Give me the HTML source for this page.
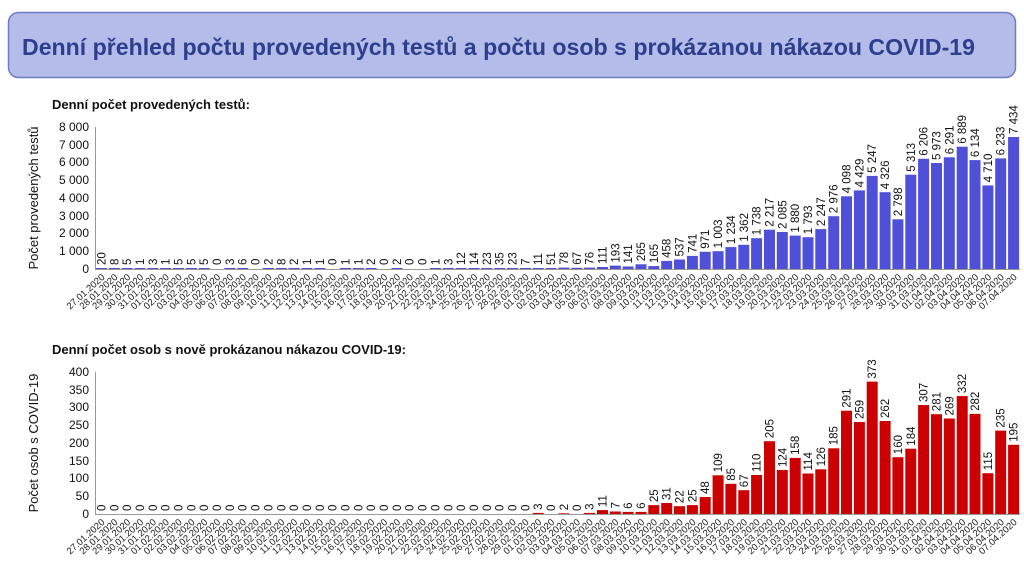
<!DOCTYPE html>
<html><head><meta charset="utf-8"><style>
body{margin:0;background:#fff;}
svg{display:block;font-family:"Liberation Sans",sans-serif;}
.v{font-size:11.5px;fill:#111;}
.d{font-size:9.5px;fill:#222;text-anchor:end;}
.t rect{fill:#4f4fd8;}
.b rect{fill:#cc0000;}
.yl{font-size:12px;fill:#111;text-anchor:end;}
</style></head><body>
<svg width="1024" height="576" viewBox="0 0 1024 576">
<rect x="8.5" y="12.5" width="1007" height="65" rx="10" fill="#b4bdea" stroke="#6f7cc4" stroke-width="1.5"/>
<text x="22" y="55" font-size="23" font-weight="bold" fill="#2e3d8c" textLength="953" lengthAdjust="spacingAndGlyphs">Denní přehled počtu provedených testů a počtu osob s prokázanou nákazou COVID-19</text>
<text x="52" y="109" font-size="13" font-weight="bold" fill="#111">Denní počet provedených testů:</text>
<text x="52" y="354" font-size="13" font-weight="bold" fill="#111">Denní počet osob s nově prokázanou nákazou COVID-19:</text>
<text transform="translate(38,198) rotate(-90)" font-size="13" text-anchor="middle" fill="#111">Počet provedených testů</text>
<text transform="translate(38,443) rotate(-90)" font-size="13" text-anchor="middle" fill="#111">Počet osob s COVID-19</text>
<g class="yl">
<text x="89" y="131">8 000</text><text x="89" y="149">7 000</text><text x="89" y="166">6 000</text><text x="89" y="184">5 000</text><text x="89" y="202">4 000</text><text x="89" y="220">3 000</text><text x="89" y="237">2 000</text><text x="89" y="255">1 000</text><text x="89" y="273">0</text>
<text x="89" y="376">400</text><text x="89" y="394">350</text><text x="89" y="411">300</text><text x="89" y="429">250</text><text x="89" y="447">200</text><text x="89" y="465">150</text><text x="89" y="482">100</text><text x="89" y="500">50</text><text x="89" y="518">0</text>
</g>
<g stroke="#999" stroke-width="1">
<line x1="95.5" y1="127" x2="95.5" y2="269"/><line x1="95" y1="269.5" x2="1020" y2="269.5"/>
<line x1="95.5" y1="372" x2="95.5" y2="514"/><line x1="95" y1="514.5" x2="1020" y2="514.5"/>
</g>
<g class="t">
<g transform="translate(101.4)"><rect x="-5.5" y="268" width="11" height="1"/><text class="v" transform="translate(4,265) rotate(-90)">20</text></g>
<g transform="translate(114.3)"><rect x="-5.5" y="268" width="11" height="1"/><text class="v" transform="translate(4,265) rotate(-90)">8</text></g>
<g transform="translate(127.1)"><rect x="-5.5" y="268" width="11" height="1"/><text class="v" transform="translate(4,265) rotate(-90)">5</text></g>
<g transform="translate(140.0)"><rect x="-5.5" y="268" width="11" height="1"/><text class="v" transform="translate(4,265) rotate(-90)">1</text></g>
<g transform="translate(152.8)"><rect x="-5.5" y="268" width="11" height="1"/><text class="v" transform="translate(4,265) rotate(-90)">3</text></g>
<g transform="translate(165.7)"><rect x="-5.5" y="268" width="11" height="1"/><text class="v" transform="translate(4,265) rotate(-90)">1</text></g>
<g transform="translate(178.5)"><rect x="-5.5" y="268" width="11" height="1"/><text class="v" transform="translate(4,265) rotate(-90)">5</text></g>
<g transform="translate(191.4)"><rect x="-5.5" y="268" width="11" height="1"/><text class="v" transform="translate(4,265) rotate(-90)">5</text></g>
<g transform="translate(204.2)"><rect x="-5.5" y="268" width="11" height="1"/><text class="v" transform="translate(4,265) rotate(-90)">5</text></g>
<g transform="translate(217.0)"><text class="v" transform="translate(4,265) rotate(-90)">0</text></g>
<g transform="translate(229.9)"><rect x="-5.5" y="268" width="11" height="1"/><text class="v" transform="translate(4,265) rotate(-90)">3</text></g>
<g transform="translate(242.7)"><rect x="-5.5" y="268" width="11" height="1"/><text class="v" transform="translate(4,265) rotate(-90)">6</text></g>
<g transform="translate(255.6)"><text class="v" transform="translate(4,265) rotate(-90)">0</text></g>
<g transform="translate(268.4)"><rect x="-5.5" y="268" width="11" height="1"/><text class="v" transform="translate(4,265) rotate(-90)">2</text></g>
<g transform="translate(281.3)"><rect x="-5.5" y="268" width="11" height="1"/><text class="v" transform="translate(4,265) rotate(-90)">8</text></g>
<g transform="translate(294.1)"><rect x="-5.5" y="268" width="11" height="1"/><text class="v" transform="translate(4,265) rotate(-90)">2</text></g>
<g transform="translate(307.0)"><rect x="-5.5" y="268" width="11" height="1"/><text class="v" transform="translate(4,265) rotate(-90)">1</text></g>
<g transform="translate(319.8)"><rect x="-5.5" y="268" width="11" height="1"/><text class="v" transform="translate(4,265) rotate(-90)">1</text></g>
<g transform="translate(332.7)"><text class="v" transform="translate(4,265) rotate(-90)">0</text></g>
<g transform="translate(345.5)"><rect x="-5.5" y="268" width="11" height="1"/><text class="v" transform="translate(4,265) rotate(-90)">1</text></g>
<g transform="translate(358.4)"><rect x="-5.5" y="268" width="11" height="1"/><text class="v" transform="translate(4,265) rotate(-90)">1</text></g>
<g transform="translate(371.2)"><rect x="-5.5" y="268" width="11" height="1"/><text class="v" transform="translate(4,265) rotate(-90)">2</text></g>
<g transform="translate(384.1)"><text class="v" transform="translate(4,265) rotate(-90)">0</text></g>
<g transform="translate(396.9)"><rect x="-5.5" y="268" width="11" height="1"/><text class="v" transform="translate(4,265) rotate(-90)">2</text></g>
<g transform="translate(409.7)"><text class="v" transform="translate(4,265) rotate(-90)">0</text></g>
<g transform="translate(422.6)"><text class="v" transform="translate(4,265) rotate(-90)">0</text></g>
<g transform="translate(435.4)"><rect x="-5.5" y="268" width="11" height="1"/><text class="v" transform="translate(4,265) rotate(-90)">1</text></g>
<g transform="translate(448.3)"><rect x="-5.5" y="268" width="11" height="1"/><text class="v" transform="translate(4,265) rotate(-90)">3</text></g>
<g transform="translate(461.1)"><rect x="-5.5" y="268" width="11" height="1"/><text class="v" transform="translate(4,265) rotate(-90)">12</text></g>
<g transform="translate(474.0)"><rect x="-5.5" y="268" width="11" height="1"/><text class="v" transform="translate(4,265) rotate(-90)">14</text></g>
<g transform="translate(486.8)"><rect x="-5.5" y="268" width="11" height="1"/><text class="v" transform="translate(4,265) rotate(-90)">23</text></g>
<g transform="translate(499.7)"><rect x="-5.5" y="268" width="11" height="1"/><text class="v" transform="translate(4,265) rotate(-90)">35</text></g>
<g transform="translate(512.5)"><rect x="-5.5" y="268" width="11" height="1"/><text class="v" transform="translate(4,265) rotate(-90)">23</text></g>
<g transform="translate(525.4)"><rect x="-5.5" y="268" width="11" height="1"/><text class="v" transform="translate(4,265) rotate(-90)">7</text></g>
<g transform="translate(538.2)"><rect x="-5.5" y="268" width="11" height="1"/><text class="v" transform="translate(4,265) rotate(-90)">11</text></g>
<g transform="translate(551.1)"><rect x="-5.5" y="268" width="11" height="1"/><text class="v" transform="translate(4,265) rotate(-90)">51</text></g>
<g transform="translate(563.9)"><rect x="-5.5" y="267.6" width="11" height="1.4"/><text class="v" transform="translate(4,264.6) rotate(-90)">78</text></g>
<g transform="translate(576.8)"><rect x="-5.5" y="267.8" width="11" height="1.2"/><text class="v" transform="translate(4,264.8) rotate(-90)">67</text></g>
<g transform="translate(589.6)"><rect x="-5.5" y="267.6" width="11" height="1.4"/><text class="v" transform="translate(4,264.6) rotate(-90)">76</text></g>
<g transform="translate(602.5)"><rect x="-5.5" y="267" width="11" height="2"/><text class="v" transform="translate(4,264) rotate(-90)">111</text></g>
<g transform="translate(615.3)"><rect x="-5.5" y="265.6" width="11" height="3.4"/><text class="v" transform="translate(4,262.6) rotate(-90)">193</text></g>
<g transform="translate(628.1)"><rect x="-5.5" y="266.5" width="11" height="2.5"/><text class="v" transform="translate(4,263.5) rotate(-90)">141</text></g>
<g transform="translate(641.0)"><rect x="-5.5" y="264.3" width="11" height="4.7"/><text class="v" transform="translate(4,261.3) rotate(-90)">265</text></g>
<g transform="translate(653.8)"><rect x="-5.5" y="266.1" width="11" height="2.9"/><text class="v" transform="translate(4,263.1) rotate(-90)">165</text></g>
<g transform="translate(666.7)"><rect x="-5.5" y="260.9" width="11" height="8.1"/><text class="v" transform="translate(4,257.9) rotate(-90)">458</text></g>
<g transform="translate(679.5)"><rect x="-5.5" y="259.5" width="11" height="9.5"/><text class="v" transform="translate(4,256.5) rotate(-90)">537</text></g>
<g transform="translate(692.4)"><rect x="-5.5" y="255.9" width="11" height="13.1"/><text class="v" transform="translate(4,252.9) rotate(-90)">741</text></g>
<g transform="translate(705.2)"><rect x="-5.5" y="251.8" width="11" height="17.2"/><text class="v" transform="translate(4,248.8) rotate(-90)">971</text></g>
<g transform="translate(718.1)"><rect x="-5.5" y="251.2" width="11" height="17.8"/><text class="v" transform="translate(4,248.2) rotate(-90)">1 003</text></g>
<g transform="translate(730.9)"><rect x="-5.5" y="247.1" width="11" height="21.9"/><text class="v" transform="translate(4,244.1) rotate(-90)">1 234</text></g>
<g transform="translate(743.8)"><rect x="-5.5" y="244.8" width="11" height="24.2"/><text class="v" transform="translate(4,241.8) rotate(-90)">1 362</text></g>
<g transform="translate(756.6)"><rect x="-5.5" y="238.2" width="11" height="30.8"/><text class="v" transform="translate(4,235.2) rotate(-90)">1 738</text></g>
<g transform="translate(769.5)"><rect x="-5.5" y="229.7" width="11" height="39.3"/><text class="v" transform="translate(4,226.7) rotate(-90)">2 217</text></g>
<g transform="translate(782.3)"><rect x="-5.5" y="232" width="11" height="37"/><text class="v" transform="translate(4,229) rotate(-90)">2 085</text></g>
<g transform="translate(795.2)"><rect x="-5.5" y="235.6" width="11" height="33.4"/><text class="v" transform="translate(4,232.6) rotate(-90)">1 880</text></g>
<g transform="translate(808.0)"><rect x="-5.5" y="237.2" width="11" height="31.8"/><text class="v" transform="translate(4,234.2) rotate(-90)">1 793</text></g>
<g transform="translate(820.8)"><rect x="-5.5" y="229.1" width="11" height="39.9"/><text class="v" transform="translate(4,226.1) rotate(-90)">2 247</text></g>
<g transform="translate(833.7)"><rect x="-5.5" y="216.2" width="11" height="52.8"/><text class="v" transform="translate(4,213.2) rotate(-90)">2 976</text></g>
<g transform="translate(846.5)"><rect x="-5.5" y="196.3" width="11" height="72.7"/><text class="v" transform="translate(4,193.3) rotate(-90)">4 098</text></g>
<g transform="translate(859.4)"><rect x="-5.5" y="190.4" width="11" height="78.6"/><text class="v" transform="translate(4,187.4) rotate(-90)">4 429</text></g>
<g transform="translate(872.2)"><rect x="-5.5" y="175.9" width="11" height="93.1"/><text class="v" transform="translate(4,172.9) rotate(-90)">5 247</text></g>
<g transform="translate(885.1)"><rect x="-5.5" y="192.2" width="11" height="76.8"/><text class="v" transform="translate(4,189.2) rotate(-90)">4 326</text></g>
<g transform="translate(897.9)"><rect x="-5.5" y="219.3" width="11" height="49.7"/><text class="v" transform="translate(4,216.3) rotate(-90)">2 798</text></g>
<g transform="translate(910.8)"><rect x="-5.5" y="174.7" width="11" height="94.3"/><text class="v" transform="translate(4,171.7) rotate(-90)">5 313</text></g>
<g transform="translate(923.6)"><rect x="-5.5" y="158.8" width="11" height="110.2"/><text class="v" transform="translate(4,155.8) rotate(-90)">6 206</text></g>
<g transform="translate(936.5)"><rect x="-5.5" y="163" width="11" height="106"/><text class="v" transform="translate(4,160) rotate(-90)">5 973</text></g>
<g transform="translate(949.3)"><rect x="-5.5" y="157.3" width="11" height="111.7"/><text class="v" transform="translate(4,154.3) rotate(-90)">6 291</text></g>
<g transform="translate(962.2)"><rect x="-5.5" y="146.7" width="11" height="122.3"/><text class="v" transform="translate(4,143.7) rotate(-90)">6 889</text></g>
<g transform="translate(975.0)"><rect x="-5.5" y="160.1" width="11" height="108.9"/><text class="v" transform="translate(4,157.1) rotate(-90)">6 134</text></g>
<g transform="translate(987.9)"><rect x="-5.5" y="185.4" width="11" height="83.6"/><text class="v" transform="translate(4,182.4) rotate(-90)">4 710</text></g>
<g transform="translate(1000.7)"><rect x="-5.5" y="158.4" width="11" height="110.6"/><text class="v" transform="translate(4,155.4) rotate(-90)">6 233</text></g>
<g transform="translate(1013.6)"><rect x="-5.5" y="137" width="11" height="132"/><text class="v" transform="translate(4,134) rotate(-90)">7 434</text></g>
</g>
<g class="b">
<g transform="translate(101.4)"><text class="v" transform="translate(4,511) rotate(-90)">0</text></g>
<g transform="translate(114.3)"><text class="v" transform="translate(4,511) rotate(-90)">0</text></g>
<g transform="translate(127.1)"><text class="v" transform="translate(4,511) rotate(-90)">0</text></g>
<g transform="translate(140.0)"><text class="v" transform="translate(4,511) rotate(-90)">0</text></g>
<g transform="translate(152.8)"><text class="v" transform="translate(4,511) rotate(-90)">0</text></g>
<g transform="translate(165.7)"><text class="v" transform="translate(4,511) rotate(-90)">0</text></g>
<g transform="translate(178.5)"><text class="v" transform="translate(4,511) rotate(-90)">0</text></g>
<g transform="translate(191.4)"><text class="v" transform="translate(4,511) rotate(-90)">0</text></g>
<g transform="translate(204.2)"><text class="v" transform="translate(4,511) rotate(-90)">0</text></g>
<g transform="translate(217.0)"><text class="v" transform="translate(4,511) rotate(-90)">0</text></g>
<g transform="translate(229.9)"><text class="v" transform="translate(4,511) rotate(-90)">0</text></g>
<g transform="translate(242.7)"><text class="v" transform="translate(4,511) rotate(-90)">0</text></g>
<g transform="translate(255.6)"><text class="v" transform="translate(4,511) rotate(-90)">0</text></g>
<g transform="translate(268.4)"><text class="v" transform="translate(4,511) rotate(-90)">0</text></g>
<g transform="translate(281.3)"><text class="v" transform="translate(4,511) rotate(-90)">0</text></g>
<g transform="translate(294.1)"><text class="v" transform="translate(4,511) rotate(-90)">0</text></g>
<g transform="translate(307.0)"><text class="v" transform="translate(4,511) rotate(-90)">0</text></g>
<g transform="translate(319.8)"><text class="v" transform="translate(4,511) rotate(-90)">0</text></g>
<g transform="translate(332.7)"><text class="v" transform="translate(4,511) rotate(-90)">0</text></g>
<g transform="translate(345.5)"><text class="v" transform="translate(4,511) rotate(-90)">0</text></g>
<g transform="translate(358.4)"><text class="v" transform="translate(4,511) rotate(-90)">0</text></g>
<g transform="translate(371.2)"><text class="v" transform="translate(4,511) rotate(-90)">0</text></g>
<g transform="translate(384.1)"><text class="v" transform="translate(4,511) rotate(-90)">0</text></g>
<g transform="translate(396.9)"><text class="v" transform="translate(4,511) rotate(-90)">0</text></g>
<g transform="translate(409.7)"><text class="v" transform="translate(4,511) rotate(-90)">0</text></g>
<g transform="translate(422.6)"><text class="v" transform="translate(4,511) rotate(-90)">0</text></g>
<g transform="translate(435.4)"><text class="v" transform="translate(4,511) rotate(-90)">0</text></g>
<g transform="translate(448.3)"><text class="v" transform="translate(4,511) rotate(-90)">0</text></g>
<g transform="translate(461.1)"><text class="v" transform="translate(4,511) rotate(-90)">0</text></g>
<g transform="translate(474.0)"><text class="v" transform="translate(4,511) rotate(-90)">0</text></g>
<g transform="translate(486.8)"><text class="v" transform="translate(4,511) rotate(-90)">0</text></g>
<g transform="translate(499.7)"><text class="v" transform="translate(4,511) rotate(-90)">0</text></g>
<g transform="translate(512.5)"><text class="v" transform="translate(4,511) rotate(-90)">0</text></g>
<g transform="translate(525.4)"><text class="v" transform="translate(4,511) rotate(-90)">0</text></g>
<g transform="translate(538.2)"><rect x="-5.5" y="512.9" width="11" height="1.1"/><text class="v" transform="translate(4,509.9) rotate(-90)">3</text></g>
<g transform="translate(551.1)"><text class="v" transform="translate(4,511) rotate(-90)">0</text></g>
<g transform="translate(563.9)"><rect x="-5.5" y="513.3" width="11" height="0.7"/><text class="v" transform="translate(4,510.3) rotate(-90)">2</text></g>
<g transform="translate(576.8)"><text class="v" transform="translate(4,511) rotate(-90)">0</text></g>
<g transform="translate(589.6)"><rect x="-5.5" y="512.9" width="11" height="1.1"/><text class="v" transform="translate(4,509.9) rotate(-90)">3</text></g>
<g transform="translate(602.5)"><rect x="-5.5" y="510.1" width="11" height="3.9"/><text class="v" transform="translate(4,507.1) rotate(-90)">11</text></g>
<g transform="translate(615.3)"><rect x="-5.5" y="511.5" width="11" height="2.5"/><text class="v" transform="translate(4,508.5) rotate(-90)">7</text></g>
<g transform="translate(628.1)"><rect x="-5.5" y="511.9" width="11" height="2.1"/><text class="v" transform="translate(4,508.9) rotate(-90)">6</text></g>
<g transform="translate(641.0)"><rect x="-5.5" y="511.9" width="11" height="2.1"/><text class="v" transform="translate(4,508.9) rotate(-90)">6</text></g>
<g transform="translate(653.8)"><rect x="-5.5" y="505.1" width="11" height="8.9"/><text class="v" transform="translate(4,502.1) rotate(-90)">25</text></g>
<g transform="translate(666.7)"><rect x="-5.5" y="503" width="11" height="11"/><text class="v" transform="translate(4,500) rotate(-90)">31</text></g>
<g transform="translate(679.5)"><rect x="-5.5" y="506.2" width="11" height="7.8"/><text class="v" transform="translate(4,503.2) rotate(-90)">22</text></g>
<g transform="translate(692.4)"><rect x="-5.5" y="505.1" width="11" height="8.9"/><text class="v" transform="translate(4,502.1) rotate(-90)">25</text></g>
<g transform="translate(705.2)"><rect x="-5.5" y="497" width="11" height="17"/><text class="v" transform="translate(4,494) rotate(-90)">48</text></g>
<g transform="translate(718.1)"><rect x="-5.5" y="475.3" width="11" height="38.7"/><text class="v" transform="translate(4,472.3) rotate(-90)">109</text></g>
<g transform="translate(730.9)"><rect x="-5.5" y="483.8" width="11" height="30.2"/><text class="v" transform="translate(4,480.8) rotate(-90)">85</text></g>
<g transform="translate(743.8)"><rect x="-5.5" y="490.2" width="11" height="23.8"/><text class="v" transform="translate(4,487.2) rotate(-90)">67</text></g>
<g transform="translate(756.6)"><rect x="-5.5" y="475" width="11" height="39"/><text class="v" transform="translate(4,472) rotate(-90)">110</text></g>
<g transform="translate(769.5)"><rect x="-5.5" y="441.2" width="11" height="72.8"/><text class="v" transform="translate(4,438.2) rotate(-90)">205</text></g>
<g transform="translate(782.3)"><rect x="-5.5" y="470" width="11" height="44"/><text class="v" transform="translate(4,467) rotate(-90)">124</text></g>
<g transform="translate(795.2)"><rect x="-5.5" y="457.9" width="11" height="56.1"/><text class="v" transform="translate(4,454.9) rotate(-90)">158</text></g>
<g transform="translate(808.0)"><rect x="-5.5" y="473.5" width="11" height="40.5"/><text class="v" transform="translate(4,470.5) rotate(-90)">114</text></g>
<g transform="translate(820.8)"><rect x="-5.5" y="469.3" width="11" height="44.7"/><text class="v" transform="translate(4,466.3) rotate(-90)">126</text></g>
<g transform="translate(833.7)"><rect x="-5.5" y="448.3" width="11" height="65.7"/><text class="v" transform="translate(4,445.3) rotate(-90)">185</text></g>
<g transform="translate(846.5)"><rect x="-5.5" y="410.7" width="11" height="103.3"/><text class="v" transform="translate(4,407.7) rotate(-90)">291</text></g>
<g transform="translate(859.4)"><rect x="-5.5" y="422" width="11" height="92"/><text class="v" transform="translate(4,419) rotate(-90)">259</text></g>
<g transform="translate(872.2)"><rect x="-5.5" y="381.6" width="11" height="132.4"/><text class="v" transform="translate(4,378.6) rotate(-90)">373</text></g>
<g transform="translate(885.1)"><rect x="-5.5" y="421" width="11" height="93"/><text class="v" transform="translate(4,418) rotate(-90)">262</text></g>
<g transform="translate(897.9)"><rect x="-5.5" y="457.2" width="11" height="56.8"/><text class="v" transform="translate(4,454.2) rotate(-90)">160</text></g>
<g transform="translate(910.8)"><rect x="-5.5" y="448.7" width="11" height="65.3"/><text class="v" transform="translate(4,445.7) rotate(-90)">184</text></g>
<g transform="translate(923.6)"><rect x="-5.5" y="405" width="11" height="109"/><text class="v" transform="translate(4,402) rotate(-90)">307</text></g>
<g transform="translate(936.5)"><rect x="-5.5" y="414.2" width="11" height="99.8"/><text class="v" transform="translate(4,411.2) rotate(-90)">281</text></g>
<g transform="translate(949.3)"><rect x="-5.5" y="418.5" width="11" height="95.5"/><text class="v" transform="translate(4,415.5) rotate(-90)">269</text></g>
<g transform="translate(962.2)"><rect x="-5.5" y="396.1" width="11" height="117.9"/><text class="v" transform="translate(4,393.1) rotate(-90)">332</text></g>
<g transform="translate(975.0)"><rect x="-5.5" y="413.9" width="11" height="100.1"/><text class="v" transform="translate(4,410.9) rotate(-90)">282</text></g>
<g transform="translate(987.9)"><rect x="-5.5" y="473.2" width="11" height="40.8"/><text class="v" transform="translate(4,470.2) rotate(-90)">115</text></g>
<g transform="translate(1000.7)"><rect x="-5.5" y="430.6" width="11" height="83.4"/><text class="v" transform="translate(4,427.6) rotate(-90)">235</text></g>
<g transform="translate(1013.6)"><rect x="-5.5" y="444.8" width="11" height="69.2"/><text class="v" transform="translate(4,441.8) rotate(-90)">195</text></g>
</g>
<g>
<g transform="translate(101.4)"><text class="d" transform="translate(4,278) rotate(-42)">27.01.2020</text><text class="d" transform="translate(4,523) rotate(-42)">27.01.2020</text></g>
<g transform="translate(114.3)"><text class="d" transform="translate(4,278) rotate(-42)">28.01.2020</text><text class="d" transform="translate(4,523) rotate(-42)">28.01.2020</text></g>
<g transform="translate(127.1)"><text class="d" transform="translate(4,278) rotate(-42)">29.01.2020</text><text class="d" transform="translate(4,523) rotate(-42)">29.01.2020</text></g>
<g transform="translate(140.0)"><text class="d" transform="translate(4,278) rotate(-42)">30.01.2020</text><text class="d" transform="translate(4,523) rotate(-42)">30.01.2020</text></g>
<g transform="translate(152.8)"><text class="d" transform="translate(4,278) rotate(-42)">31.01.2020</text><text class="d" transform="translate(4,523) rotate(-42)">31.01.2020</text></g>
<g transform="translate(165.7)"><text class="d" transform="translate(4,278) rotate(-42)">01.02.2020</text><text class="d" transform="translate(4,523) rotate(-42)">01.02.2020</text></g>
<g transform="translate(178.5)"><text class="d" transform="translate(4,278) rotate(-42)">02.02.2020</text><text class="d" transform="translate(4,523) rotate(-42)">02.02.2020</text></g>
<g transform="translate(191.4)"><text class="d" transform="translate(4,278) rotate(-42)">03.02.2020</text><text class="d" transform="translate(4,523) rotate(-42)">03.02.2020</text></g>
<g transform="translate(204.2)"><text class="d" transform="translate(4,278) rotate(-42)">04.02.2020</text><text class="d" transform="translate(4,523) rotate(-42)">04.02.2020</text></g>
<g transform="translate(217.0)"><text class="d" transform="translate(4,278) rotate(-42)">05.02.2020</text><text class="d" transform="translate(4,523) rotate(-42)">05.02.2020</text></g>
<g transform="translate(229.9)"><text class="d" transform="translate(4,278) rotate(-42)">06.02.2020</text><text class="d" transform="translate(4,523) rotate(-42)">06.02.2020</text></g>
<g transform="translate(242.7)"><text class="d" transform="translate(4,278) rotate(-42)">07.02.2020</text><text class="d" transform="translate(4,523) rotate(-42)">07.02.2020</text></g>
<g transform="translate(255.6)"><text class="d" transform="translate(4,278) rotate(-42)">08.02.2020</text><text class="d" transform="translate(4,523) rotate(-42)">08.02.2020</text></g>
<g transform="translate(268.4)"><text class="d" transform="translate(4,278) rotate(-42)">09.02.2020</text><text class="d" transform="translate(4,523) rotate(-42)">09.02.2020</text></g>
<g transform="translate(281.3)"><text class="d" transform="translate(4,278) rotate(-42)">10.02.2020</text><text class="d" transform="translate(4,523) rotate(-42)">10.02.2020</text></g>
<g transform="translate(294.1)"><text class="d" transform="translate(4,278) rotate(-42)">11.02.2020</text><text class="d" transform="translate(4,523) rotate(-42)">11.02.2020</text></g>
<g transform="translate(307.0)"><text class="d" transform="translate(4,278) rotate(-42)">12.02.2020</text><text class="d" transform="translate(4,523) rotate(-42)">12.02.2020</text></g>
<g transform="translate(319.8)"><text class="d" transform="translate(4,278) rotate(-42)">13.02.2020</text><text class="d" transform="translate(4,523) rotate(-42)">13.02.2020</text></g>
<g transform="translate(332.7)"><text class="d" transform="translate(4,278) rotate(-42)">14.02.2020</text><text class="d" transform="translate(4,523) rotate(-42)">14.02.2020</text></g>
<g transform="translate(345.5)"><text class="d" transform="translate(4,278) rotate(-42)">15.02.2020</text><text class="d" transform="translate(4,523) rotate(-42)">15.02.2020</text></g>
<g transform="translate(358.4)"><text class="d" transform="translate(4,278) rotate(-42)">16.02.2020</text><text class="d" transform="translate(4,523) rotate(-42)">16.02.2020</text></g>
<g transform="translate(371.2)"><text class="d" transform="translate(4,278) rotate(-42)">17.02.2020</text><text class="d" transform="translate(4,523) rotate(-42)">17.02.2020</text></g>
<g transform="translate(384.1)"><text class="d" transform="translate(4,278) rotate(-42)">18.02.2020</text><text class="d" transform="translate(4,523) rotate(-42)">18.02.2020</text></g>
<g transform="translate(396.9)"><text class="d" transform="translate(4,278) rotate(-42)">19.02.2020</text><text class="d" transform="translate(4,523) rotate(-42)">19.02.2020</text></g>
<g transform="translate(409.7)"><text class="d" transform="translate(4,278) rotate(-42)">20.02.2020</text><text class="d" transform="translate(4,523) rotate(-42)">20.02.2020</text></g>
<g transform="translate(422.6)"><text class="d" transform="translate(4,278) rotate(-42)">21.02.2020</text><text class="d" transform="translate(4,523) rotate(-42)">21.02.2020</text></g>
<g transform="translate(435.4)"><text class="d" transform="translate(4,278) rotate(-42)">22.02.2020</text><text class="d" transform="translate(4,523) rotate(-42)">22.02.2020</text></g>
<g transform="translate(448.3)"><text class="d" transform="translate(4,278) rotate(-42)">23.02.2020</text><text class="d" transform="translate(4,523) rotate(-42)">23.02.2020</text></g>
<g transform="translate(461.1)"><text class="d" transform="translate(4,278) rotate(-42)">24.02.2020</text><text class="d" transform="translate(4,523) rotate(-42)">24.02.2020</text></g>
<g transform="translate(474.0)"><text class="d" transform="translate(4,278) rotate(-42)">25.02.2020</text><text class="d" transform="translate(4,523) rotate(-42)">25.02.2020</text></g>
<g transform="translate(486.8)"><text class="d" transform="translate(4,278) rotate(-42)">26.02.2020</text><text class="d" transform="translate(4,523) rotate(-42)">26.02.2020</text></g>
<g transform="translate(499.7)"><text class="d" transform="translate(4,278) rotate(-42)">27.02.2020</text><text class="d" transform="translate(4,523) rotate(-42)">27.02.2020</text></g>
<g transform="translate(512.5)"><text class="d" transform="translate(4,278) rotate(-42)">28.02.2020</text><text class="d" transform="translate(4,523) rotate(-42)">28.02.2020</text></g>
<g transform="translate(525.4)"><text class="d" transform="translate(4,278) rotate(-42)">29.02.2020</text><text class="d" transform="translate(4,523) rotate(-42)">29.02.2020</text></g>
<g transform="translate(538.2)"><text class="d" transform="translate(4,278) rotate(-42)">01.03.2020</text><text class="d" transform="translate(4,523) rotate(-42)">01.03.2020</text></g>
<g transform="translate(551.1)"><text class="d" transform="translate(4,278) rotate(-42)">02.03.2020</text><text class="d" transform="translate(4,523) rotate(-42)">02.03.2020</text></g>
<g transform="translate(563.9)"><text class="d" transform="translate(4,278) rotate(-42)">03.03.2020</text><text class="d" transform="translate(4,523) rotate(-42)">03.03.2020</text></g>
<g transform="translate(576.8)"><text class="d" transform="translate(4,278) rotate(-42)">04.03.2020</text><text class="d" transform="translate(4,523) rotate(-42)">04.03.2020</text></g>
<g transform="translate(589.6)"><text class="d" transform="translate(4,278) rotate(-42)">05.03.2020</text><text class="d" transform="translate(4,523) rotate(-42)">05.03.2020</text></g>
<g transform="translate(602.5)"><text class="d" transform="translate(4,278) rotate(-42)">06.03.2020</text><text class="d" transform="translate(4,523) rotate(-42)">06.03.2020</text></g>
<g transform="translate(615.3)"><text class="d" transform="translate(4,278) rotate(-42)">07.03.2020</text><text class="d" transform="translate(4,523) rotate(-42)">07.03.2020</text></g>
<g transform="translate(628.1)"><text class="d" transform="translate(4,278) rotate(-42)">08.03.2020</text><text class="d" transform="translate(4,523) rotate(-42)">08.03.2020</text></g>
<g transform="translate(641.0)"><text class="d" transform="translate(4,278) rotate(-42)">09.03.2020</text><text class="d" transform="translate(4,523) rotate(-42)">09.03.2020</text></g>
<g transform="translate(653.8)"><text class="d" transform="translate(4,278) rotate(-42)">10.03.2020</text><text class="d" transform="translate(4,523) rotate(-42)">10.03.2020</text></g>
<g transform="translate(666.7)"><text class="d" transform="translate(4,278) rotate(-42)">11.03.2020</text><text class="d" transform="translate(4,523) rotate(-42)">11.03.2020</text></g>
<g transform="translate(679.5)"><text class="d" transform="translate(4,278) rotate(-42)">12.03.2020</text><text class="d" transform="translate(4,523) rotate(-42)">12.03.2020</text></g>
<g transform="translate(692.4)"><text class="d" transform="translate(4,278) rotate(-42)">13.03.2020</text><text class="d" transform="translate(4,523) rotate(-42)">13.03.2020</text></g>
<g transform="translate(705.2)"><text class="d" transform="translate(4,278) rotate(-42)">14.03.2020</text><text class="d" transform="translate(4,523) rotate(-42)">14.03.2020</text></g>
<g transform="translate(718.1)"><text class="d" transform="translate(4,278) rotate(-42)">15.03.2020</text><text class="d" transform="translate(4,523) rotate(-42)">15.03.2020</text></g>
<g transform="translate(730.9)"><text class="d" transform="translate(4,278) rotate(-42)">16.03.2020</text><text class="d" transform="translate(4,523) rotate(-42)">16.03.2020</text></g>
<g transform="translate(743.8)"><text class="d" transform="translate(4,278) rotate(-42)">17.03.2020</text><text class="d" transform="translate(4,523) rotate(-42)">17.03.2020</text></g>
<g transform="translate(756.6)"><text class="d" transform="translate(4,278) rotate(-42)">18.03.2020</text><text class="d" transform="translate(4,523) rotate(-42)">18.03.2020</text></g>
<g transform="translate(769.5)"><text class="d" transform="translate(4,278) rotate(-42)">19.03.2020</text><text class="d" transform="translate(4,523) rotate(-42)">19.03.2020</text></g>
<g transform="translate(782.3)"><text class="d" transform="translate(4,278) rotate(-42)">20.03.2020</text><text class="d" transform="translate(4,523) rotate(-42)">20.03.2020</text></g>
<g transform="translate(795.2)"><text class="d" transform="translate(4,278) rotate(-42)">21.03.2020</text><text class="d" transform="translate(4,523) rotate(-42)">21.03.2020</text></g>
<g transform="translate(808.0)"><text class="d" transform="translate(4,278) rotate(-42)">22.03.2020</text><text class="d" transform="translate(4,523) rotate(-42)">22.03.2020</text></g>
<g transform="translate(820.8)"><text class="d" transform="translate(4,278) rotate(-42)">23.03.2020</text><text class="d" transform="translate(4,523) rotate(-42)">23.03.2020</text></g>
<g transform="translate(833.7)"><text class="d" transform="translate(4,278) rotate(-42)">24.03.2020</text><text class="d" transform="translate(4,523) rotate(-42)">24.03.2020</text></g>
<g transform="translate(846.5)"><text class="d" transform="translate(4,278) rotate(-42)">25.03.2020</text><text class="d" transform="translate(4,523) rotate(-42)">25.03.2020</text></g>
<g transform="translate(859.4)"><text class="d" transform="translate(4,278) rotate(-42)">26.03.2020</text><text class="d" transform="translate(4,523) rotate(-42)">26.03.2020</text></g>
<g transform="translate(872.2)"><text class="d" transform="translate(4,278) rotate(-42)">27.03.2020</text><text class="d" transform="translate(4,523) rotate(-42)">27.03.2020</text></g>
<g transform="translate(885.1)"><text class="d" transform="translate(4,278) rotate(-42)">28.03.2020</text><text class="d" transform="translate(4,523) rotate(-42)">28.03.2020</text></g>
<g transform="translate(897.9)"><text class="d" transform="translate(4,278) rotate(-42)">29.03.2020</text><text class="d" transform="translate(4,523) rotate(-42)">29.03.2020</text></g>
<g transform="translate(910.8)"><text class="d" transform="translate(4,278) rotate(-42)">30.03.2020</text><text class="d" transform="translate(4,523) rotate(-42)">30.03.2020</text></g>
<g transform="translate(923.6)"><text class="d" transform="translate(4,278) rotate(-42)">31.03.2020</text><text class="d" transform="translate(4,523) rotate(-42)">31.03.2020</text></g>
<g transform="translate(936.5)"><text class="d" transform="translate(4,278) rotate(-42)">01.04.2020</text><text class="d" transform="translate(4,523) rotate(-42)">01.04.2020</text></g>
<g transform="translate(949.3)"><text class="d" transform="translate(4,278) rotate(-42)">02.04.2020</text><text class="d" transform="translate(4,523) rotate(-42)">02.04.2020</text></g>
<g transform="translate(962.2)"><text class="d" transform="translate(4,278) rotate(-42)">03.04.2020</text><text class="d" transform="translate(4,523) rotate(-42)">03.04.2020</text></g>
<g transform="translate(975.0)"><text class="d" transform="translate(4,278) rotate(-42)">04.04.2020</text><text class="d" transform="translate(4,523) rotate(-42)">04.04.2020</text></g>
<g transform="translate(987.9)"><text class="d" transform="translate(4,278) rotate(-42)">05.04.2020</text><text class="d" transform="translate(4,523) rotate(-42)">05.04.2020</text></g>
<g transform="translate(1000.7)"><text class="d" transform="translate(4,278) rotate(-42)">06.04.2020</text><text class="d" transform="translate(4,523) rotate(-42)">06.04.2020</text></g>
<g transform="translate(1013.6)"><text class="d" transform="translate(4,278) rotate(-42)">07.04.2020</text><text class="d" transform="translate(4,523) rotate(-42)">07.04.2020</text></g>
</g>
</svg>
</body></html>
